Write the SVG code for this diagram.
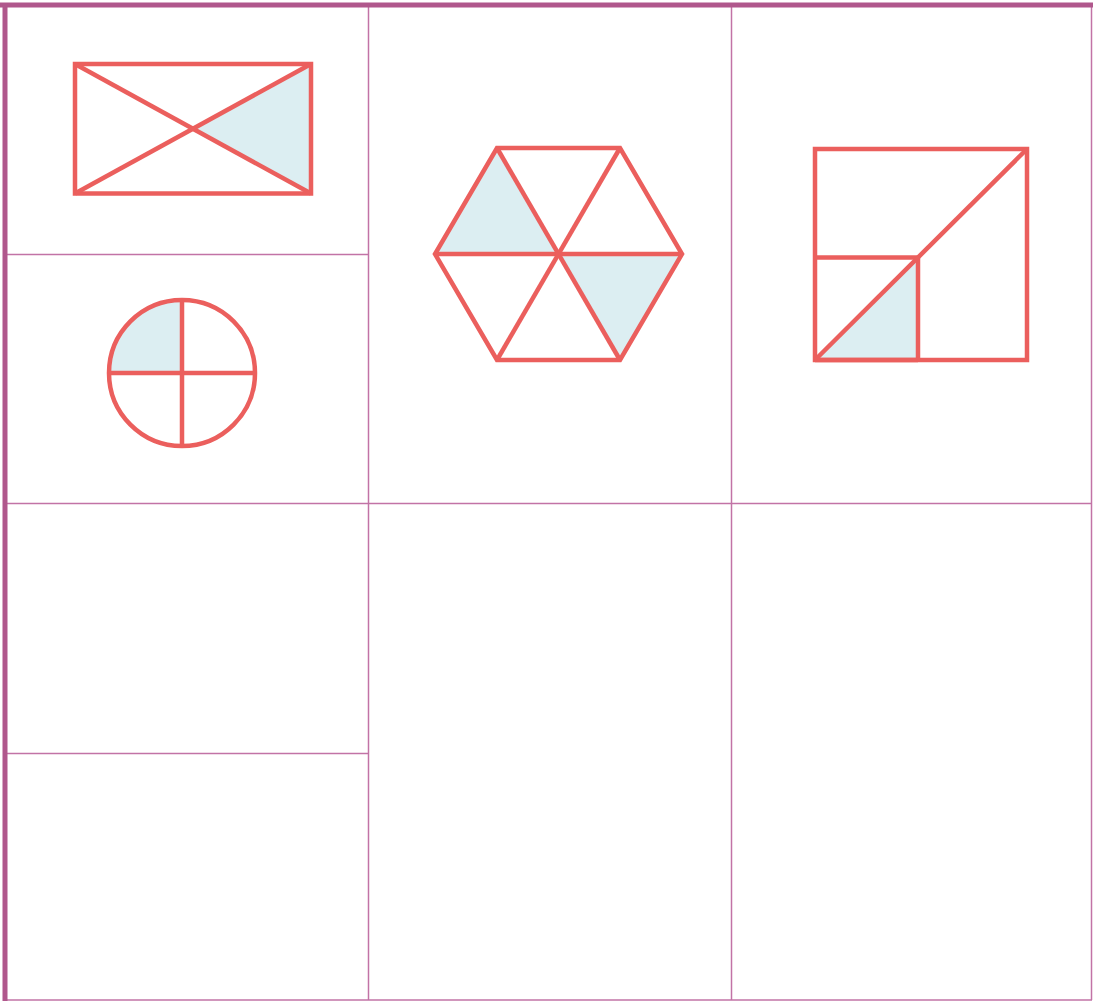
<svg xmlns="http://www.w3.org/2000/svg" width="1093" height="1002" viewBox="0 0 1093 1002">
<style>
.grid{stroke:#C273A6;stroke-width:1.5;fill:none}
.frame{stroke:#B0578C;fill:none}
.sh{stroke:#EB5F5D;stroke-width:4.5;fill:none;stroke-linejoin:miter}
.fill{fill:#DCEEF2;stroke:none}
</style>
<rect width="1093" height="1002" fill="#ffffff"/>
<g id="grid">
<line class="grid" x1="368.5" y1="5" x2="368.5" y2="1000"/>
<line class="grid" x1="731.5" y1="5" x2="731.5" y2="1000"/>
<line class="grid" x1="5" y1="254.5" x2="368.5" y2="254.5"/>
<line class="grid" x1="5" y1="503.5" x2="1091" y2="503.5"/>
<line class="grid" x1="5" y1="753.5" x2="368.5" y2="753.5"/>
<line class="grid" x1="1091.5" y1="5" x2="1091.5" y2="1000"/>
<line class="grid" x1="5" y1="1000" x2="1092" y2="1000"/>
<line class="frame" stroke-width="5" x1="0" y1="5" x2="1093" y2="5"/>
<line class="frame" stroke-width="5" x1="5" y1="3" x2="5" y2="1001"/>
</g>
<g id="rectangle">
<polygon class="fill" points="311,64 311,193 193,128.5"/>
<rect class="sh" x="75" y="64" width="236" height="129.5"/>
<line class="sh" x1="75" y1="64" x2="311" y2="193.5"/>
<line class="sh" x1="75" y1="193.5" x2="311" y2="64"/>
</g>
<g id="circle">
<path class="fill" d="M182,373 L109,373 A73,73 0 0 1 182,300 Z"/>
<circle class="sh" cx="182" cy="373" r="73"/>
<line class="sh" x1="109" y1="373" x2="255" y2="373"/>
<line class="sh" x1="182" y1="300" x2="182" y2="446"/>
</g>
<g id="hexagon">
<polygon class="fill" points="497,148 435,254 558,254"/>
<polygon class="fill" points="558,254 682,254 620,360"/>
<polygon class="sh" points="497,148 620,148 682,254 620,360 497,360 435,254"/>
<line class="sh" x1="435" y1="254" x2="682" y2="254"/>
<line class="sh" x1="497" y1="148" x2="620" y2="360"/>
<line class="sh" x1="620" y1="148" x2="497" y2="360"/>
</g>
<g id="square">
<polygon class="fill" points="815,360 918,257 918,360"/>
<rect class="sh" x="815" y="149" width="212" height="211"/>
<line class="sh" x1="815" y1="257.5" x2="918" y2="257.5"/>
<line class="sh" x1="918" y1="257.5" x2="918" y2="360"/>
<line class="sh" x1="815" y1="360" x2="1027" y2="149"/>
<line class="sh" stroke-width="5.5" x1="815" y1="360" x2="918" y2="360"/>
</g>
</svg>
